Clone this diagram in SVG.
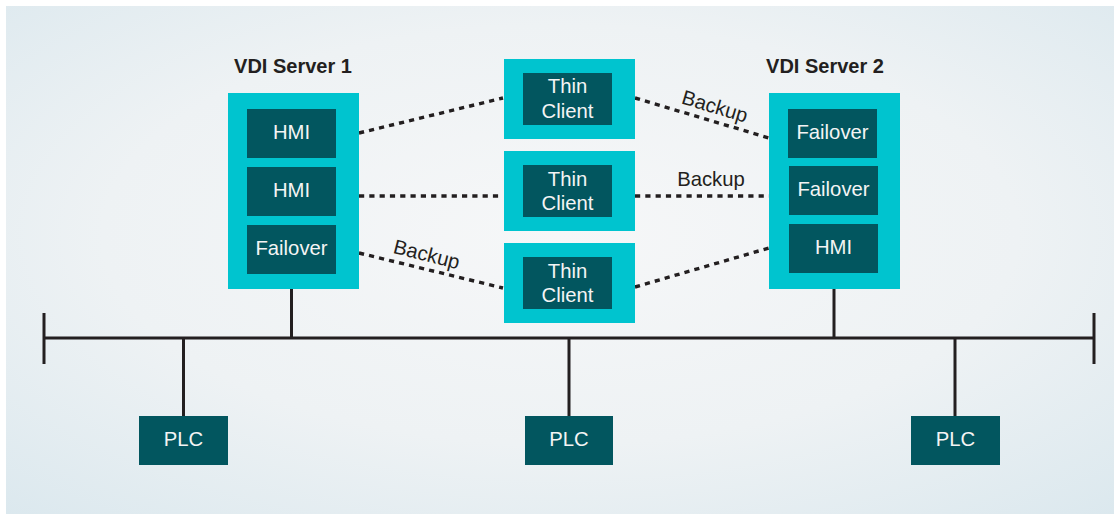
<svg xmlns="http://www.w3.org/2000/svg" width="1120" height="515" viewBox="0 0 1120 515">
<defs>
<radialGradient id="bg" cx="0.5" cy="0.45" r="0.75">
<stop offset="0" stop-color="#f6f7f8"/>
<stop offset="0.55" stop-color="#eef2f4"/>
<stop offset="1" stop-color="#dbe8ee"/>
</radialGradient>
<style>
.outer{fill:#00c4cf}
.inner{fill:#02565f}
.lbl{font-family:"Liberation Sans",Arial,sans-serif;font-size:20.3px;fill:#f4f4f4;text-anchor:middle}
.title{font-family:"Liberation Sans",Arial,sans-serif;font-size:20px;font-weight:bold;fill:#231f20;text-anchor:middle}
.edge{font-family:"Liberation Sans",Arial,sans-serif;font-size:20.3px;fill:#231f20;text-anchor:middle}
.dash{stroke:#231f20;stroke-width:3.4;stroke-dasharray:5.2 5.1;fill:none}
.bus{stroke:#231f20;stroke-width:3;fill:none}
</style>
</defs>
<rect x="0" y="0" width="1120" height="515" fill="#ffffff"/>
<rect x="6" y="6" width="1108" height="508" fill="url(#bg)"/>

<g id="connectors">
<line class="dash" x1="359" y1="133" x2="503" y2="98"/>
<line class="dash" x1="359" y1="196" x2="503" y2="196"/>
<line class="dash" x1="359" y1="253" x2="503" y2="288"/>
<line class="dash" x1="635" y1="98" x2="769" y2="138"/>
<line class="dash" x1="635" y1="196" x2="769" y2="196"/>
<line class="dash" x1="635" y1="287" x2="769" y2="248"/>
<text class="edge" transform="rotate(14.3 425 261)" x="425" y="261">Backup</text>
<text class="edge" transform="rotate(16.6 713 113)" x="713" y="113">Backup</text>
<text class="edge" x="711" y="186">Backup</text>
<line class="bus" x1="44" y1="338" x2="1094" y2="338"/>
<line class="bus" x1="44" y1="313" x2="44" y2="364"/>
<line class="bus" x1="1094" y1="313" x2="1094" y2="364"/>
<line class="bus" x1="291.5" y1="289" x2="291.5" y2="338"/>
<line class="bus" x1="834" y1="289" x2="834" y2="338"/>
<line class="bus" x1="183.5" y1="338" x2="183.5" y2="416"/>
<line class="bus" x1="569" y1="338" x2="569" y2="416"/>
<line class="bus" x1="955" y1="338" x2="955" y2="416"/>
</g>

<g id="server1">
<text class="title" x="293" y="73">VDI Server 1</text>
<rect class="outer" x="228" y="93" width="131" height="196"/>
<rect class="inner" x="247" y="109" width="89" height="49"/>
<text class="lbl" x="291.5" y="139">HMI</text>
<rect class="inner" x="247" y="167" width="89" height="49"/>
<text class="lbl" x="291.5" y="197">HMI</text>
<rect class="inner" x="247" y="225" width="89" height="49"/>
<text class="lbl" x="291.5" y="255">Failover</text>
</g>

<g id="server2">
<text class="title" x="825" y="73">VDI Server 2</text>
<rect class="outer" x="769" y="93" width="131" height="196"/>
<rect class="inner" x="788" y="109" width="89" height="49"/>
<text class="lbl" x="832.5" y="139">Failover</text>
<rect class="inner" x="789" y="166" width="89" height="49"/>
<text class="lbl" x="833.5" y="196">Failover</text>
<rect class="inner" x="789" y="224" width="89" height="49"/>
<text class="lbl" x="833.5" y="254">HMI</text>
</g>

<g id="thin1">
<rect class="outer" x="504" y="59" width="131" height="80"/>
<rect class="inner" x="523" y="73" width="89" height="52"/>
<text class="lbl" x="567.5" y="93">Thin</text>
<text class="lbl" x="567.5" y="118">Client</text>
</g>
<g id="thin2">
<rect class="outer" x="504" y="151" width="131" height="80"/>
<rect class="inner" x="523" y="165" width="89" height="52"/>
<text class="lbl" x="567.5" y="186">Thin</text>
<text class="lbl" x="567.5" y="210">Client</text>
</g>
<g id="thin3">
<rect class="outer" x="504" y="243" width="131" height="80"/>
<rect class="inner" x="523" y="257" width="89" height="52"/>
<text class="lbl" x="567.5" y="278">Thin</text>
<text class="lbl" x="567.5" y="302">Client</text>
</g>

<g id="plc1">
<rect class="inner" x="139" y="416" width="89" height="49"/>
<text class="lbl" x="183.5" y="446">PLC</text>
</g>
<g id="plc2">
<rect class="inner" x="525" y="416" width="88" height="49"/>
<text class="lbl" x="569" y="446">PLC</text>
</g>
<g id="plc3">
<rect class="inner" x="911" y="416" width="89" height="49"/>
<text class="lbl" x="955.5" y="446">PLC</text>
</g>
</svg>
